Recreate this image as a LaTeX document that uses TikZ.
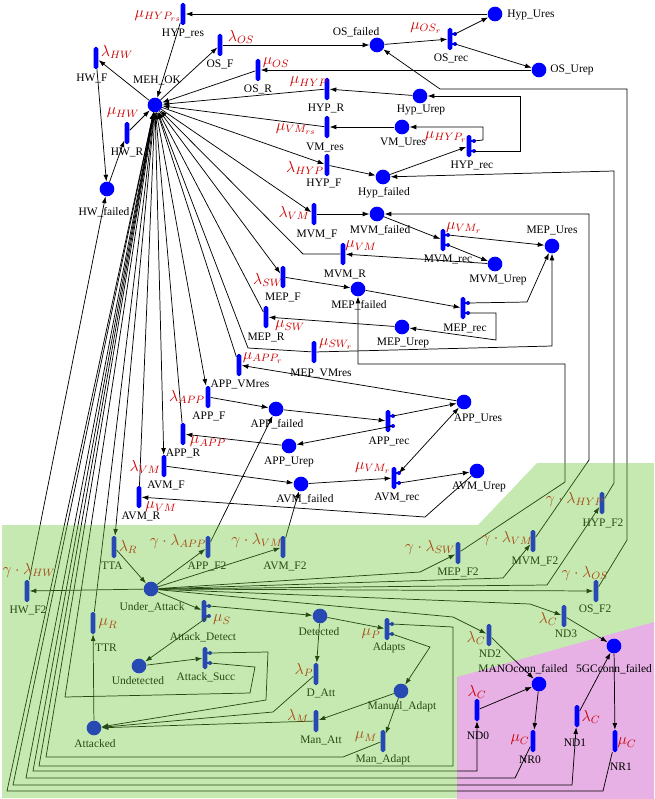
\documentclass[tikz,border=0pt]{standalone}
\usepackage{fontspec}
\setmainfont{Liberation Serif}
\usetikzlibrary{arrows.meta}
\definecolor{tblue}{RGB}{0,0,255}
\definecolor{rate}{RGB}{205,0,0}
\definecolor{gover}{RGB}{105,197,53}
\definecolor{pinkbg}{RGB}{231,177,230}
\tikzset{
  place/.style={circle, fill=tblue, minimum size=11pt, inner sep=0pt},
  trans/.style={rectangle, rounded corners=1.4pt, fill=tblue, minimum width=3.6pt, minimum height=16.5pt, inner sep=0pt},
  lab/.style={font=\fontsize{8.6}{9}\selectfont, inner sep=0pt},
  rt/.style={text=rate, font=\fontsize{11.5}{12}\selectfont, inner sep=0pt},
  arc/.style={draw, line width=0.55pt, -{Latex[length=5pt,width=3.6pt]}},
  arcb/.style={draw, line width=0.55pt, {Latex[length=5pt,width=3.6pt]}-{Latex[length=5pt,width=3.6pt]}},
}
\newcommand\rtr[3]{%
  \node[trans] (#1) at (#2,#3) {};
  \coordinate (#1a) at (#2+5,#3-5);
  \coordinate (#1b) at (#2+5,#3+5);
  \fill[tblue] (#1a) circle (1.5pt);
  \fill[tblue] (#1b) circle (1.5pt);
  \draw[tblue, line width=0.8pt] (#1.center |- #1a) -- (#1a);
  \draw[tblue, line width=0.8pt] (#1.center |- #1b) -- (#1b);
}
\begin{document}
\begin{tikzpicture}[x=0.75pt,y=-0.75pt]
\useasboundingbox (0,0) rectangle (654,799);
% pink region (below everything)
\fill[pinkbg] (457,677) -- (654,622) -- (654,799) -- (457,799) -- cycle;

% ---------------- places ----------------
\node[place] (MEHOK) at (155,105) {};
\node[place] (HWfailed) at (107,189) {};
\node[place] (OSfailed) at (377,45) {};
\node[place] (HypUres) at (495,14) {};
\node[place] (OSUrep) at (539,70) {};
\node[place] (HypUrep) at (420,96) {};
\node[place] (VMUres) at (402,127) {};
\node[place] (Hypfailed) at (383,177) {};
\node[place] (MVMfailed) at (377,214) {};
\node[place] (MEPUres) at (552,246) {};
\node[place] (MVMUrep) at (495,264) {};
\node[place] (MEPfailed) at (358,289) {};
\node[place] (MEPUrep) at (402,327) {};
\node[place] (APPfailed) at (276,409) {};
\node[place] (APPUrep) at (289,446) {};
\node[place] (AVMfailed) at (301,484) {};
\node[place] (APPUres) at (464,402) {};
\node[place] (AVMUrep) at (477,471) {};
\node[place] (UnderAttack) at (151,589) {};
\node[place] (Detected) at (320,616) {};
\node[place] (Undetected) at (139,666) {};
\node[place] (Attacked) at (94,728) {};
\node[place] (ManualAdapt) at (401,691) {};
\node[place] (MANO) at (539,684) {};
\node[place] (GC) at (614,646) {};

% ---------------- transitions ----------------
\node[trans] (HYPres) at (183,14) {};
\node[trans] (OSF) at (220,45) {};
\node[trans] (OSR) at (258,70) {};
\node[trans] (HWF) at (96,58) {};
\node[trans] (HWR) at (127,133) {};
\node[trans] (HYPR) at (327,89) {};
\node[trans] (VMres) at (327,127) {};
\node[trans] (HYPF) at (327,165) {};
\rtr{OSrec}{450}{39}
\rtr{HYPrec}{469}{146}
\node[trans] (MVMF) at (314,214) {};
\rtr{MVMrec}{443}{240}
\node[trans] (MVMR) at (343,254) {};
\node[trans] (MEPF) at (283,277) {};
\node[trans] (MEPR) at (266,317) {};
\rtr{MEPrec}{463}{308}
\node[trans] (MEPVMres) at (314,352) {};
\node[trans] (APPVMres) at (239,365) {};
\node[trans] (APPF) at (208,397) {};
\node[trans] (APPR) at (183,434) {};
\node[trans] (AVMF) at (164,466) {};
\node[trans] (AVMR) at (139,497) {};
\rtr{APPrec}{388}{421}
\rtr{AVMrec}{394}{478}
\node[trans] (TTA) at (114,547) {};
\node[trans] (APPFtwo) at (208,547) {};
\node[trans] (AVMFtwo) at (283,547) {};
\node[trans] (HWFtwo) at (27,591) {};
\node[trans] (MEPFtwo) at (458,553) {};
\node[trans] (MVMFtwo) at (533,541) {};
\node[trans] (HYPFtwo) at (602,503) {};
\node[trans] (OSFtwo) at (596,591) {};
\node[trans] (NDthree) at (564,616) {};
\node[trans] (NDtwo) at (489,635) {};
\node[trans] (TTR) at (93,623) {};
\rtr{AttackDetect}{204}{611}
\rtr{AttackSucc}{205}{658}
\rtr{Adapts}{387}{629}
\node[trans] (DAtt) at (316,674) {};
\node[trans] (ManAtt) at (316,721) {};
\node[trans] (ManAdapt) at (383,741) {};
\node[trans] (NDzero) at (477,710) {};
\node[trans] (NRzero) at (533,741) {};
\node[trans] (NDone) at (577,716) {};
\node[trans] (NRone) at (615,741) {};

% ---------------- arcs: upper part ----------------
\draw[arc] (MEHOK) -- (HWF);
\draw[arc] (HWF) -- (HWfailed);
\draw[arc] (HWfailed) -- (HWR);
\draw[arc] (HWR) -- (MEHOK);
\draw[arc] (HYPres) -- (MEHOK);
\draw[arc] (HypUres) -- (HYPres);
\draw[arc] (MEHOK) -- (OSF);
\draw[arc] (OSF) -- (OSfailed);
\draw[arc] (OSfailed) -- (OSrec);
\draw[arc] (OSreca) -- (HypUres);
\draw[arc] (OSrecb) -- (OSUrep);
\draw[arc] (OSUrep) -- (OSR);
\draw[arc] (OSR) -- (MEHOK);
\draw[arc] (HypUrep) -- (HYPR);
\draw[arc] (HYPR) -- (MEHOK);
\draw[arc] (VMUres) -- (VMres);
\draw[arc] (VMres) -- (MEHOK);
\draw[arc] (MEHOK) -- (HYPF);
\draw[arc] (HYPF) -- (Hypfailed);
\draw[arc] (Hypfailed) -- (HYPrec);
\draw[arc] (HYPreca) -- (483,140) -- (483,127) -- (VMUres);
\draw[arc] (HYPrecb) -- (520,151) -- (520,96) -- (HypUrep);
\draw[arc] (OSFtwo) -- (627,540) -- (627,89) -- (440,89) -- (OSfailed);
\draw[arc] (HYPFtwo) -- (614,483) -- (614,171) -- (Hypfailed);
\draw[arc] (MEHOK) -- (MVMF);
\draw[arc] (MVMF) -- (MVMfailed);
\draw[arc] (MVMFtwo) -- (589,460) -- (589,214) -- (MVMfailed);
\draw[arc] (MVMfailed) -- (MVMrec);
\draw[arc] (MVMreca) -- (MEPUres);
\draw[arc] (MVMrecb) -- (MVMUrep);
\draw[arc] (MVMUrep) -- (MVMR);
\draw[arc] (MVMR) -- (303,254) -- (MEHOK);
\draw[arc] (MEHOK) -- (MEPF);
\draw[arc] (MEPF) -- (MEPfailed);
\draw[arc] (MEPfailed) -- (MEPrec);
\draw[arc] (MEPreca) -- (527,302) -- (MEPUres);
\draw[arc] (MEPrecb) -- (496,313) -- (496,340) -- (MEPUrep);
\draw[arc] (MEPUrep) -- (MEPR);
\draw[arc] (MEPR) -- (MEHOK);
\draw[arc] (MEPFtwo) -- (565,482) -- (565,364) -- (358,364) -- (MEPfailed);
\draw[arc] (MEPVMres) -- (552,346) -- (MEPUres);
\draw[arc] (MEPVMres) -- (248,348) -- (MEHOK);
\draw[arc] (MEHOK) -- (APPF);
\draw[arc] (APPF) -- (APPfailed);
\draw[arc] (APPFtwo) -- (APPfailed);
\draw[arc] (APPfailed) -- (APPrec);
\draw[arc] (APPreca) -- (APPUres);
\draw[arc] (APPrecb) -- (APPUrep);
\draw[arc] (APPUrep) -- (APPR);
\draw[arc] (APPR) -- (MEHOK);
\draw[arc] (APPUres) -- (APPVMres);
\draw[arc] (APPVMres) -- (MEHOK);
\draw[arc] (MEHOK) -- (AVMF);
\draw[arc] (AVMF) -- (AVMfailed);
\draw[arc] (AVMFtwo) -- (AVMfailed);
\draw[arc] (AVMfailed) -- (AVMrec);
\draw[arcb] (AVMreca) -- (APPUres);
\draw[arc] (AVMrecb) -- (AVMUrep);
\draw[arc] (AVMUrep) -- (425,517) -- (AVMR);
\draw[arc] (AVMR) -- (MEHOK);

% ---------------- arcs: attack part ----------------
\draw[arc] (MEHOK) -- (TTA);
\draw[arc] (TTA) -- (UnderAttack);
\draw[arc] (UnderAttack) -- (HWFtwo);
\draw[arc] (HWFtwo) -- (HWfailed);
\draw[arc] (UnderAttack) -- (APPFtwo);
\draw[arc] (UnderAttack) -- (AVMFtwo);
\draw[arc] (UnderAttack) -- (420,572) -- (MEPFtwo);
\draw[arc] (UnderAttack) -- (503,578) -- (MVMFtwo);
\draw[arc] (UnderAttack) -- (547,585) -- (HYPFtwo);
\draw[arc] (UnderAttack) -- (OSFtwo);
\draw[arc] (UnderAttack) -- (530,604) -- (NDthree);
\draw[arc] (UnderAttack) -- (453,617) -- (NDtwo);
\draw[arc] (UnderAttack) -- (AttackDetect);
\draw[arc] (AttackDetecta) -- (Detected);
\draw[arc] (AttackDetectb) -- (Undetected);
\draw[arc] (Undetected) -- (AttackSucc);
\draw[arc] (AttackSucca) -- (268,652) -- (266,700) -- (Attacked);
\draw[arc] (AttackSuccb) -- (255,667) -- (250,693) -- (65,697) -- (MEHOK);
\draw[arc] (Detected) -- (DAtt);
\draw[arc] (DAtt) -- (273,712) -- (Attacked);
\draw[arc] (Detected) -- (Adapts);
\draw[arc] (Adaptsb) -- (430,647) -- (ManualAdapt);
\draw[arc] (Adaptsa) -- (453,627) -- (453,766) -- (39,766) -- (MEHOK);
\draw[arc] (ManualAdapt) -- (ManAtt);
\draw[arc] (ManualAdapt) -- (ManAdapt);
\draw[arc] (ManAtt) -- (Attacked);
\draw[arc] (ManAdapt) -- (343,757) -- (46,757) -- (MEHOK);
\draw[arc] (Attacked) -- (TTR);
\draw[arc] (TTR) -- (MEHOK);
\draw[arc] (MEHOK) -- (33,771) -- (477,771) -- (NDzero);
\draw[arc] (NRzero) -- (515,778) -- (26,778) -- (MEHOK);
\draw[arc] (MEHOK) -- (13,785) -- (572,785) -- (NDone);
\draw[arc] (NRone) -- (603,791) -- (7,791) -- (MEHOK);
\draw[arc] (NDtwo) -- (MANO);
\draw[arc] (NDzero) -- (MANO);
\draw[arc] (MANO) -- (NRzero);
\draw[arc] (NDthree) -- (GC);
\draw[arc] (NDone) -- (GC);
\draw[arc] (GC) -- (NRone);

% ---------------- labels ----------------
\node[lab] (tMEHOK) at (157,80) {MEH\_OK};
\node[lab] (tHWfailed) at (104,212) {HW\_failed};
\node[lab] (tOSfailed) at (356,32) {OS\_failed};
\node[lab] (tHypUres) at (531,15) {Hyp\_Ures};
\node[lab] (tOSUrep) at (572,70) {OS\_Urep};
\node[lab] (tHypUrep) at (421,110) {Hyp\_Urep};
\node[lab] (tVMUres) at (403,142) {VM\_Ures};
\node[lab] (tHypfailed) at (384,193) {Hyp\_failed};
\node[lab] (tMVMfailed) at (380,230) {MVM\_failed};
\node[lab] (tMEPUres) at (552,230) {MEP\_Ures};
\node[lab] (tMVMUrep) at (498,280) {MVM\_Urep};
\node[lab] (tMEPfailed) at (359,305) {MEP\_failed};
\node[lab] (tMEPUrep) at (403,343) {MEP\_Urep};
\node[lab] (tAPPfailed) at (277,424) {APP\_failed};
\node[lab] (tAPPUrep) at (289,462) {APP\_Urep};
\node[lab] (tAVMfailed) at (305,499) {AVM\_failed};
\node[lab] (tAPPUres) at (478,418) {APP\_Ures};
\node[lab] (tAVMUrep) at (479,487) {AVM\_Urep};
\node[lab] (tUnderAttack) at (152,607) {Under\_Attack};
\node[lab] (tDetected) at (319,632) {Detected};
\node[lab] (tUndetected) at (138,681) {Undetected};
\node[lab] (tAttacked) at (95,744) {Attacked};
\node[lab] (tManualAdapt) at (402,707) {Manual\_Adapt};
\node[lab] (tMANO) at (523,669) {MANOconn\_failed};
\node[lab] (tGC) at (614,669) {5GCconn\_failed};

\node[lab] (tHYPres) at (183,33) {HYP\_res};
\node[lab] (tOSF) at (220,64) {OS\_F};
\node[lab] (tOSR) at (258,89) {OS\_R};
\node[lab] (tHWF) at (92,78) {HW\_F};
\node[lab] (tHWR) at (127,152) {HW\_R};
\node[lab] (tHYPR) at (326,108) {HYP\_R};
\node[lab] (tVMres) at (325,147) {VM\_res};
\node[lab] (tHYPF) at (324,183) {HYP\_F};
\node[lab] (tOSrec) at (451,58) {OS\_rec};
\node[lab] (tHYPrec) at (472,165) {HYP\_rec};
\node[lab] (tMVMF) at (317,234) {MVM\_F};
\node[lab] (tMVMrec) at (448,259) {MVM\_rec};
\node[lab] (tMVMR) at (345,274) {MVM\_R};
\node[lab] (tMEPF) at (283,297) {MEP\_F};
\node[lab] (tMEPR) at (266,337) {MEP\_R};
\node[lab] (tMEPrec) at (465,328) {MEP\_rec};
\node[lab] (tMEPVMres) at (321,373) {MEP\_VMres};
\node[lab] (tAPPVMres) at (240,384) {APP\_VMres};
\node[lab] (tAPPF) at (209,416) {APP\_F};
\node[lab] (tAPPR) at (183,453) {APP\_R};
\node[lab] (tAVMF) at (166,485) {AVM\_F};
\node[lab] (tAVMR) at (141,516) {AVM\_R};
\node[lab] (tAPPrec) at (389,441) {APP\_rec};
\node[lab] (tAVMrec) at (397,497) {AVM\_rec};
\node[lab] (tTTA) at (112,566) {TTA};
\node[lab] (tAPPFtwo) at (207,566) {APP\_F2};
\node[lab] (tAVMFtwo) at (285,566) {AVM\_F2};
\node[lab] (tHWFtwo) at (28,610) {HW\_F2};
\node[lab] (tMEPFtwo) at (458,572) {MEP\_F2};
\node[lab] (tMVMFtwo) at (535,561) {MVM\_F2};
\node[lab] (tHYPFtwo) at (603,523) {HYP\_F2};
\node[lab] (tOSFtwo) at (595,609) {OS\_F2};
\node[lab] (tNDthree) at (566,634) {ND3};
\node[lab] (tNDtwo) at (490,654) {ND2};
\node[lab] (tTTR) at (106,648) {TTR};
\node[lab] (tAttackDetect) at (203,637) {Attack\_Detect};
\node[lab] (tAttackSucc) at (206,677) {Attack\_Succ};
\node[lab] (tAdapts) at (389,648) {Adapts};
\node[lab] (tDAtt) at (321,693) {D\_Att};
\node[lab] (tManAtt) at (321,740) {Man\_Att};
\node[lab] (tManAdapt) at (383,760) {Man\_Adapt};
\node[lab] (tNDzero) at (478,736) {ND0};
\node[lab] (tNRzero) at (530,760) {NR0};
\node[lab] (tNDone) at (575,743) {ND1};
\node[lab] (tNRone) at (621,767) {NR1};

% rates
\node[rt] (rHYPres) at (158,16) {$\mu_{HYP_{rs}}$};
\node[rt] (rOSF) at (241,37) {$\lambda_{OS}$};
\node[rt] (rOSR) at (276,63) {$\mu_{OS}$};
\node[rt] (rHWF) at (117,52) {$\lambda_{HW}$};
\node[rt] (rHWR) at (123,113) {$\mu_{HW}$};
\node[rt] (rHYPR) at (309,82) {$\mu_{HYP}$};
\node[rt] (rVMres) at (296,129) {$\mu_{VM_{rs}}$};
\node[rt] (rHYPF) at (305,168) {$\lambda_{HYP}$};
\node[rt] (rOSrec) at (426,28) {$\mu_{OS_r}$};
\node[rt] (rHYPrec) at (446,137) {$\mu_{HYP_r}$};
\node[rt] (rMVMF) at (294,213) {$\lambda_{VM}$};
\node[rt] (rMVMrec) at (464,228) {$\mu_{VM_r}$};
\node[rt] (rMVMR) at (361,246) {$\mu_{VM}$};
\node[rt] (rMEPF) at (268,280) {$\lambda_{SW}$};
\node[rt] (rMEPR) at (290,326) {$\mu_{SW}$};
\node[rt] (rMEPVMres) at (336,344) {$\mu_{SW_r}$};
\node[rt] (rAPPVMres) at (263,358) {$\mu_{APP_r}$};
\node[rt] (rAPPF) at (187,397) {$\lambda_{APP}$};
\node[rt] (rAPPR) at (208,442) {$\mu_{APP}$};
\node[rt] (rAVMF) at (145,467) {$\lambda_{VM}$};
\node[rt] (rAVMR) at (161,507) {$\mu_{VM}$};
\node[rt] (rAVMrec) at (373,468) {$\mu_{VM_r}$};
\node[rt] (rTTA) at (128,547) {$\lambda_{R}$};
\node[rt] (rAPPFtwo) at (178,541) {$\gamma\cdot\lambda_{APP}$};
\node[rt] (rAVMFtwo) at (257,540) {$\gamma\cdot\lambda_{VM}$};
\node[rt] (rHWFtwo) at (29,570) {$\gamma\cdot\lambda_{HW}$};
\node[rt] (rMEPFtwo) at (430,547) {$\gamma\cdot\lambda_{SW}$};
\node[rt] (rMVMFtwo) at (507,538) {$\gamma\cdot\lambda_{VM}$};
\node[rt] (rHYPFtwo) at (575,499) {$\gamma\cdot\lambda_{HYP}$};
\node[rt] (rOSFtwo) at (585,573) {$\gamma\cdot\lambda_{OS}$};
\node[rt] (rNDthree) at (548,619) {$\lambda_{C}$};
\node[rt] (rNDtwo) at (476,638) {$\lambda_{C}$};
\node[rt] (rTTR) at (108,624) {$\mu_{R}$};
\node[rt] (rAttackDetect) at (222,620) {$\mu_{S}$};
\node[rt] (rAdapts) at (371,634) {$\mu_{P}$};
\node[rt] (rDAtt) at (304,670) {$\lambda_{P}$};
\node[rt] (rManAtt) at (298,716) {$\lambda_{M}$};
\node[rt] (rManAdapt) at (366,737) {$\mu_{M}$};
\node[rt] (rNDzero) at (477,692) {$\lambda_{C}$};
\node[rt] (rNRzero) at (520,740) {$\mu_{C}$};
\node[rt] (rNDone) at (591,717) {$\lambda_{C}$};
\node[rt] (rNRone) at (627,743) {$\mu_{C}$};

% green overlay (on top, translucent)
\fill[gover, fill opacity=0.38] (2,525) -- (478,525) -- (537,463) -- (654,463) -- (654,622) -- (457,677) -- (457,798) -- (2,798) -- cycle;
\end{tikzpicture}
\end{document}
